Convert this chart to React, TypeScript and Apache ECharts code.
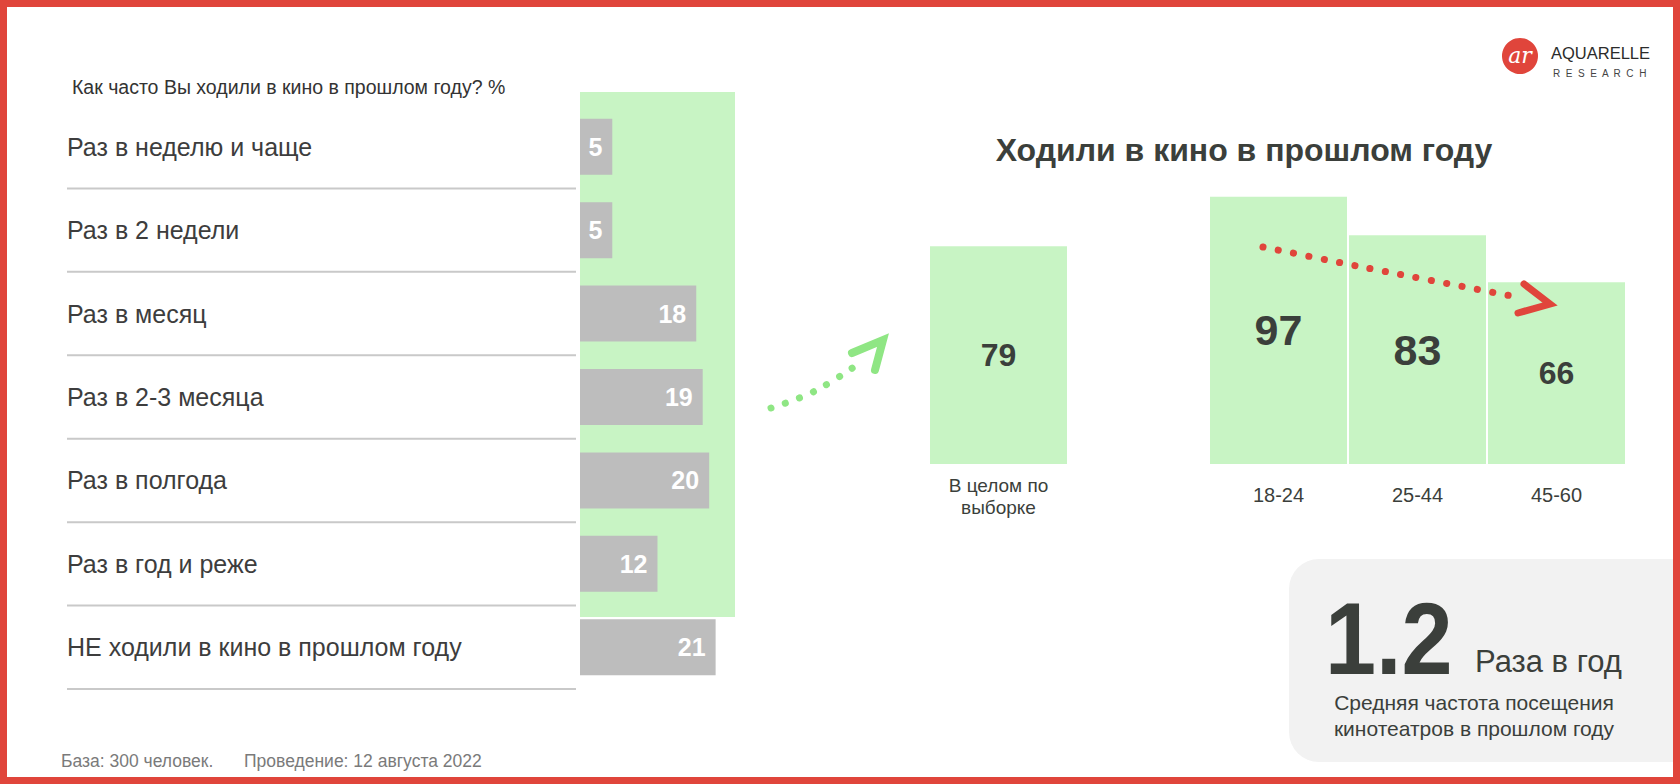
import React, { useEffect, useRef } from "react";
import * as echarts from "echarts";

const rowCategories = [
  "Раз в неделю и чаще",
  "Раз в 2 недели",
  "Раз в месяц",
  "Раз в 2-3 месяца",
  "Раз в полгода",
  "Раз в год и реже",
  "НЕ ходили в кино в прошлом году",
];
const rowValues = [5, 5, 18, 19, 20, 12, 21];

const totalCategory = ["В целом по\nвыборке"];
const totalValues = [79];

const ageCategories = ["18-24", "25-44", "45-60"];
const ageValues = [97, 83, 66];

const avgFrequency = "1.2";

const FONT = "'Liberation Sans', Arial, sans-serif";
const DARK = "#3b3f3b";
const GREEN = "#c8f4c4";
const GRAY = "#bdbdbd";
const RED = "#e0453b";
const ARROW_GREEN = "#8fe684";

export default function App() {
  const ref = useRef<HTMLDivElement>(null);
  useEffect(() => {
    if (!ref.current) return;
    const chart = echarts.init(ref.current, null, { renderer: "svg" });
    const valueLabelSize = (v: number) => (v > 80 ? 43 : 32);
    const option: any = {
      animation: false,
      backgroundColor: "#ffffff",
      textStyle: { fontFamily: FONT },
      title: [
        {
          text: "Ходили в кино в прошлом году",
          left: 1239,
          top: 129,
          textAlign: "center",
          textStyle: { fontSize: 32, fontWeight: "bold", color: DARK, fontFamily: FONT },
        },
        {
          text: "Как часто Вы ходили в кино в прошлом году? %",
          left: 67,
          top: 72,
          textStyle: { fontSize: 19.5, fontWeight: "normal", color: "#333", fontFamily: FONT },
        },
      ],
      grid: [
        { left: 580, top: 105, width: 155, height: 584 },
        { left: 930, top: 188.5, width: 137, height: 275.5 },
        { left: 1209, top: 188.5, width: 417, height: 275.5 },
      ],
      xAxis: [
        { gridIndex: 0, type: "value", min: 0, max: 24, show: false },
        {
          gridIndex: 1,
          type: "category",
          data: totalCategory,
          axisLine: { show: false },
          axisTick: { show: false },
          axisLabel: { margin: 10, fontSize: 19, lineHeight: 22, color: DARK, fontFamily: FONT },
        },
        {
          gridIndex: 2,
          type: "category",
          data: ageCategories,
          axisLine: { show: false },
          axisTick: { show: false },
          axisLabel: { margin: 21, fontSize: 20, color: DARK, fontFamily: FONT },
        },
      ],
      yAxis: [
        {
          gridIndex: 0,
          type: "category",
          data: rowCategories,
          inverse: true,
          axisLine: { show: false },
          axisTick: { show: false },
          axisLabel: { align: "left", margin: 513, fontSize: 25, color: "#3d3d3d", fontFamily: FONT },
        },
        { gridIndex: 1, type: "value", min: 0, max: 100, show: false },
        { gridIndex: 2, type: "value", min: 0, max: 100, show: false },
      ],
      series: [
        {
          type: "custom",
          xAxisIndex: 0,
          yAxisIndex: 0,
          data: rowCategories.map((_, i) => [0, i]),
          encode: { x: 0, y: 1 },
          silent: true,
          z: 1,
          renderItem: (params: any, api: any) => {
            const p = api.coord([0, api.value(1)]);
            const band = api.size([0, 1])[1];
            const cs = params.coordSys;
            const y = p[1] + band / 2;
            return {
              type: "line",
              shape: { x1: cs.x - 513, y1: y, x2: cs.x - 4, y2: y },
              style: { stroke: "#c9c9c9", lineWidth: 2 },
            };
          },
        },
        {
          type: "bar",
          xAxisIndex: 0,
          yAxisIndex: 0,
          data: rowValues,
          barWidth: 56,
          itemStyle: { color: GRAY },
          z: 3,
          label: {
            show: true,
            position: "insideRight",
            distance: 10,
            color: "#ffffff",
            fontWeight: "bold",
            fontSize: 25,
            fontFamily: FONT,
          },
        },
        {
          type: "bar",
          xAxisIndex: 1,
          yAxisIndex: 1,
          data: totalValues.map((v) => ({ value: v, label: { fontSize: valueLabelSize(v) } })),
          barWidth: 137,
          itemStyle: { color: GREEN },
          label: { show: true, position: "inside", color: DARK, fontWeight: "bold", fontFamily: FONT },
        },
        {
          type: "bar",
          xAxisIndex: 2,
          yAxisIndex: 2,
          data: ageValues.map((v) => ({ value: v, label: { fontSize: valueLabelSize(v) } })),
          barWidth: 137,
          itemStyle: { color: GREEN },
          label: { show: true, position: "inside", color: DARK, fontWeight: "bold", fontFamily: FONT },
        },
      ],
      graphic: [
        { type: "rect", z: 0, silent: true, shape: { x: 580, y: 92, width: 155, height: 525 }, style: { fill: GREEN } },
        { type: "rect", z: 0, silent: true, shape: { x: 1289, y: 559, width: 420, height: 203, r: 30 }, style: { fill: "#f2f2f2" } },
        {
          type: "text", z: 5, x: 1325, y: 690, scaleX: 0.9,
          style: { text: avgFrequency, font: `bold 102px ${FONT}`, fill: DARK, verticalAlign: "bottom" },
        },
        {
          type: "text", z: 5, x: 1475, y: 677,
          style: { text: "Раза в год", font: `31px ${FONT}`, fill: DARK, verticalAlign: "bottom" },
        },
        {
          type: "text", z: 5, x: 1474, y: 715,
          style: {
            text: "Средняя частота посещения\nкинотеатров в прошлом году",
            font: `21px ${FONT}`, fill: DARK, align: "center", verticalAlign: "middle", lineHeight: 26,
          },
        },
        {
          type: "text", z: 5, x: 61, y: 761,
          style: { text: "База: 300 человек.", font: `17.5px ${FONT}`, fill: "#7a7a7a", verticalAlign: "middle" },
        },
        {
          type: "text", z: 5, x: 244, y: 761,
          style: { text: "Проведение: 12 августа 2022", font: `17.5px ${FONT}`, fill: "#7a7a7a", verticalAlign: "middle" },
        },
        // green dotted arrow
        {
          type: "polyline", z: 50, silent: true,
          shape: { points: [[771, 408], [815, 391], [864, 360]], smooth: 0.4 },
          style: { stroke: ARROW_GREEN, lineWidth: 7, lineDash: [0.1, 15], lineCap: "round", fill: null },
        },
        {
          type: "polyline", z: 50, silent: true,
          shape: { points: [[852, 353], [883, 340], [875, 370]] },
          style: { stroke: ARROW_GREEN, lineWidth: 8, lineCap: "round", lineJoin: "miter", fill: null },
        },
        // red dotted arrow
        {
          type: "polyline", z: 50, silent: true,
          shape: { points: [[1263, 247], [1357, 266], [1522, 298]], smooth: 0.2 },
          style: { stroke: RED, lineWidth: 7, lineDash: [0.1, 15.5], lineCap: "round", fill: null },
        },
        {
          type: "polyline", z: 50, silent: true,
          shape: { points: [[1524, 284], [1550, 304], [1518, 313]] },
          style: { stroke: RED, lineWidth: 7, lineCap: "round", lineJoin: "miter", fill: null },
        },
        // logo
        { type: "circle", z: 50, shape: { cx: 1520, cy: 56, r: 18 }, style: { fill: RED } },
        {
          type: "text", z: 51, x: 1520, y: 55,
          style: { text: "ar", font: `italic 22px 'DejaVu Serif', serif`, fill: "#ffffff", align: "center", verticalAlign: "middle" },
        },
        {
          type: "text", z: 51, x: 1551, y: 53,
          style: { text: "AQUARELLE", font: `16.5px ${FONT}`, fill: "#2b2b2b", verticalAlign: "middle" },
        },
        {
          type: "text", z: 51, x: 1553, y: 73,
          style: { text: "R  E  S  E  A  R  C  H", font: `10px ${FONT}`, fill: "#444", verticalAlign: "middle" },
        },
        // frame
        {
          type: "rect", z: 100, silent: true,
          shape: { x: 3.5, y: 3.5, width: 1673, height: 777 },
          style: { fill: null, stroke: RED, lineWidth: 7 },
        },
      ],
    };
    chart.setOption(option);
    return () => chart.dispose();
  }, []);
  return (
    <div
      ref={ref}
      style={{ position: "absolute", left: 0, top: 0, width: 1680, height: 784 }}
    />
  );
}
